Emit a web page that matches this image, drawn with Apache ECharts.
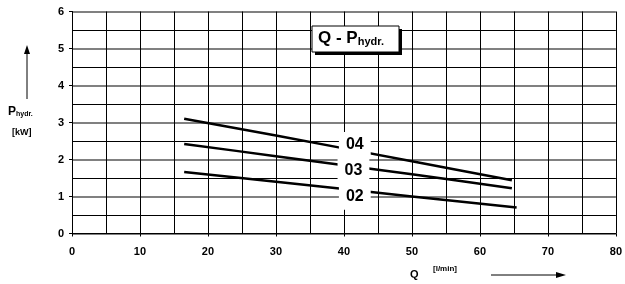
<!DOCTYPE html>
<html>
<head>
<meta charset="utf-8">
<script src="https://cdn.jsdelivr.net/npm/echarts@6/dist/echarts.min.js"></script>
<style>
  html, body { margin: 0; padding: 0; background: #fff; }
  #chart { width: 625px; height: 284px; }
</style>
</head>
<body>
<div id="chart"></div>
<script>
// Q [l/min] vs P_hydr. [kW]
const q04 = [16.5, 30, 50, 64.7]
const p04 = [3.10, 2.65, 1.95, 1.44]
const q03 = [16.5, 30, 50, 64.7]
const p03 = [2.42, 2.09, 1.60, 1.22]
const q02 = [16.5, 30, 50, 65.4]
const p02 = [1.66, 1.40, 1.00, 0.70]

const tags = ['04', '03', '02']
const tagQ = [41.6, 41.4, 41.6]
const tagP = [2.39, 1.69, 0.99]

const font = 'Liberation Sans, Arial, sans-serif'
const zip = (xs, ys) => xs.map((x, i) => [x, ys[i]])

const chart = echarts.init(document.getElementById('chart'))

const curve = (name, xs, ys) => ({
  name: name,
  type: 'line',
  data: zip(xs, ys),
  symbol: 'none',
  smooth: 0.3,
  lineStyle: {color: '#000', width: 2.5},
  z: 3
})

chart.setOption({
  animation: false,
  grid: {left: 72, right: 5, top: 11.5, bottom: 50.5},
  xAxis: {
    type: 'value', min: 0, max: 80, interval: 10,
    axisLine: {show: true, lineStyle: {color: '#000', width: 1}},
    axisTick: {show: true, length: 3, lineStyle: {color: '#000'}},
    axisLabel: {color: '#000', fontFamily: font, fontWeight: 'bold', fontSize: 11, margin: 13},
    splitLine: {show: true, lineStyle: {color: '#000', width: 1}},
    minorTick: {show: false, splitNumber: 2},
    minorSplitLine: {show: true, lineStyle: {color: '#000', width: 1}}
  },
  yAxis: {
    type: 'value', min: 0, max: 6, interval: 1,
    axisLine: {show: true, lineStyle: {color: '#000', width: 1}},
    axisTick: {show: true, length: 3, lineStyle: {color: '#000'}},
    axisLabel: {color: '#000', fontFamily: font, fontWeight: 'bold', fontSize: 11, margin: 8},
    splitLine: {show: true, lineStyle: {color: '#808080', width: 2}},
    minorTick: {show: false, splitNumber: 2},
    minorSplitLine: {show: true, lineStyle: {color: '#000', width: 1}}
  },
  series: [
    curve('04', q04, p04),
    curve('03', q03, p03),
    curve('02', q02, p02)
  ]
})

// curve tags: white boxes placed through the axis scales
const tagGraphics = tags.map((t, i) => {
  const pt = chart.convertToPixel({gridIndex: 0}, [tagQ[i], tagP[i]])
  return {
    type: 'text', x: pt[0], y: pt[1], z: 10,
    style: {
      text: t, fontFamily: font, fontWeight: 'bold', fontSize: 16, fill: '#000',
      align: 'center', verticalAlign: 'middle',
      backgroundColor: '#fff', padding: [5, 7]
    }
  }
})

chart.setOption({
  graphic: tagGraphics.concat([
    // title box with shadow
    {type: 'rect', x: 315, y: 29, shape: {width: 87, height: 26}, style: {fill: '#000'}, z: 10},
    {type: 'rect', x: 312, y: 26, shape: {width: 87, height: 26}, style: {fill: '#fff', stroke: '#000', lineWidth: 1}, z: 11},
    {
      type: 'text', x: 318, y: 29, z: 12,
      style: {
        text: '{a|Q - P}{b|hydr.}',
        rich: {
          a: {fontFamily: font, fontWeight: 'bold', fontSize: 17, fill: '#000'},
          b: {fontFamily: font, fontWeight: 'bold', fontSize: 11, fill: '#000', padding: [7, 0, 0, 0]}
        }
      }
    },
    // y axis name
    {
      type: 'text', x: 8, y: 106,
      style: {
        text: '{a|P}{b|hydr.}',
        rich: {
          a: {fontFamily: font, fontWeight: 'bold', fontSize: 12, fill: '#000'},
          b: {fontFamily: font, fontWeight: 'bold', fontSize: 7, fill: '#000', padding: [5, 0, 0, 0]}
        }
      }
    },
    {type: 'text', x: 12, y: 128, style: {text: '[kW]', fontFamily: font, fontWeight: 'bold', fontSize: 9, fill: '#000'}},
    {type: 'line', shape: {x1: 27, y1: 99, x2: 27, y2: 52}, style: {stroke: '#000', lineWidth: 1}},
    {type: 'polygon', shape: {points: [[27, 45], [24, 54], [30, 54]]}, style: {fill: '#000'}},
    // x axis name
    {type: 'text', x: 410, y: 269, style: {text: 'Q', fontFamily: font, fontWeight: 'bold', fontSize: 11, fill: '#000'}},
    {type: 'text', x: 433, y: 265, style: {text: '[l/min]', fontFamily: font, fontWeight: 'bold', fontSize: 8, fill: '#000'}},
    {type: 'line', shape: {x1: 491, y1: 275, x2: 558, y2: 275}, style: {stroke: '#000', lineWidth: 1}},
    {type: 'polygon', shape: {points: [[566, 275], [556, 272], [556, 278]]}, style: {fill: '#000'}}
  ])
})
</script>
</body>
</html>
